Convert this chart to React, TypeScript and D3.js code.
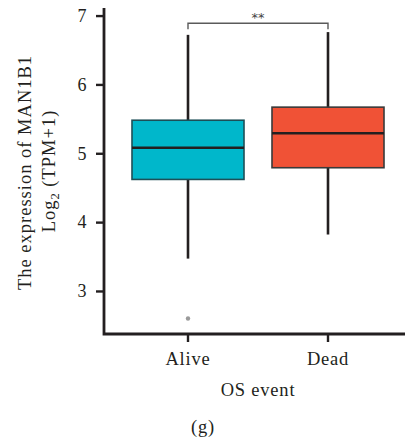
import React, { useEffect, useRef } from "react";
import * as d3 from "d3";

// groups and box statistics
const groups = ["Alive", "Dead"];
const q1 = [4.62, 4.79];
const medians = [5.08, 5.29];
const q3 = [5.48, 5.67];
const whiskerLow = [3.47, 3.82];
const whiskerHigh = [6.72, 6.76];
const outliers = [{ group: "Alive", value: 2.6 }];
const yTicks = [3, 4, 5, 6, 7];
const fills = ["#00B7CB", "#F05236"];
const strokes = ["#1d4f57", "#3a3a3a"];

const FONT = "'Liberation Serif', 'Times New Roman', serif";
const INK = "#231f20";

export default function App() {
  const ref = useRef<SVGSVGElement>(null);

  useEffect(() => {
    const svg = d3.select(ref.current);
    svg.selectAll("*").remove();

    const left = 104, right = 412, top = 8, bottom = 334;

    const y = d3.scaleLinear().domain([2.375, 7.11]).range([bottom, top]);
    const x = d3.scaleBand().domain(groups).range([left, right]).paddingInner(0.2).paddingOuter(0.2);
    const bw = x.bandwidth();
    const cx = (g: string) => (x(g) as number) + bw / 2;

    const data = groups.map((g, i) => ({
      g, i, q1: q1[i], med: medians[i], q3: q3[i], lo: whiskerLow[i], hi: whiskerHigh[i],
    }));

    // whiskers
    svg.selectAll(".whisk-top").data(data).join("line")
      .attr("x1", d => cx(d.g)).attr("x2", d => cx(d.g))
      .attr("y1", d => y(d.q3)).attr("y2", d => y(d.hi))
      .attr("stroke", INK).attr("stroke-width", 2.6);
    svg.selectAll(".whisk-bot").data(data).join("line")
      .attr("x1", d => cx(d.g)).attr("x2", d => cx(d.g))
      .attr("y1", d => y(d.q1)).attr("y2", d => y(d.lo))
      .attr("stroke", INK).attr("stroke-width", 2.6);

    // boxes
    svg.selectAll(".box").data(data).join("rect")
      .attr("x", d => x(d.g) as number)
      .attr("y", d => y(d.q3))
      .attr("width", bw)
      .attr("height", d => y(d.q1) - y(d.q3))
      .attr("fill", d => fills[d.i])
      .attr("stroke", d => strokes[d.i])
      .attr("stroke-width", 1.6);

    // medians
    svg.selectAll(".median").data(data).join("line")
      .attr("x1", d => x(d.g) as number).attr("x2", d => (x(d.g) as number) + bw)
      .attr("y1", d => y(d.med)).attr("y2", d => y(d.med))
      .attr("stroke", INK).attr("stroke-width", 2.4);

    // outliers
    svg.selectAll(".outlier").data(outliers).join("circle")
      .attr("cx", d => cx(d.group)).attr("cy", d => y(d.value))
      .attr("r", 2.2).attr("fill", "#9a9a9a");

    // significance bracket
    const by = 23.3;
    svg.append("path")
      .attr("d", `M${cx("Alive")},${by + 6}V${by}H${cx("Dead")}V${by + 6}`)
      .attr("fill", "none").attr("stroke", "#5a5a5a").attr("stroke-width", 1.4);
    svg.append("text")
      .attr("x", (cx("Alive") + cx("Dead")) / 2).attr("y", by - 1)
      .attr("text-anchor", "middle")
      .style("font-family", "'DejaVu Sans', sans-serif").style("font-size", "13px")
      .attr("fill", "#444").text("**");

    // y axis
    const yAxis = svg.append("g").attr("transform", `translate(${left},0)`)
      .call(d3.axisLeft(y).tickValues(yTicks).tickSize(8).tickPadding(9).tickFormat(d3.format("d")));
    yAxis.select(".domain").remove();
    yAxis.selectAll(".tick line").attr("stroke", INK).attr("stroke-width", 2.4);
    yAxis.selectAll(".tick text")
      .style("font-family", FONT).style("font-size", "18px").attr("fill", INK)
      .attr("letter-spacing", "0.5px");

    // x axis ticks
    svg.selectAll(".xtick").data(groups).join("line")
      .attr("x1", d => cx(d)).attr("x2", d => cx(d))
      .attr("y1", bottom).attr("y2", bottom + 8)
      .attr("stroke", INK).attr("stroke-width", 2.4);
    svg.selectAll(".xlab").data(groups).join("text")
      .attr("x", d => cx(d)).attr("y", 365)
      .attr("text-anchor", "middle")
      .style("font-family", FONT).style("font-size", "18.5px")
      .attr("letter-spacing", "0.8px")
      .attr("fill", INK).text(d => d);

    // axis lines
    svg.append("path")
      .attr("d", `M${left},${top}V${bottom}H${right}`)
      .attr("fill", "none").attr("stroke", INK).attr("stroke-width", 2.8);

    // axis titles
    svg.append("text")
      .attr("x", 258).attr("y", 396)
      .attr("text-anchor", "middle")
      .style("font-family", FONT).style("font-size", "18.5px")
      .attr("letter-spacing", "0.8px")
      .attr("fill", INK).text("OS event");

    svg.append("text")
      .attr("transform", "translate(31,172.5) rotate(-90)")
      .attr("text-anchor", "middle")
      .style("font-family", FONT).style("font-size", "18.5px")
      .attr("letter-spacing", "1px")
      .attr("fill", INK).text("The expression of MAN1B1");

    const l2 = svg.append("text")
      .attr("transform", "translate(55,171) rotate(-90)")
      .attr("text-anchor", "middle")
      .style("font-family", FONT).style("font-size", "18.5px")
      .attr("letter-spacing", "1px")
      .attr("fill", INK);
    l2.append("tspan").text("Log");
    l2.append("tspan").attr("dy", 4).style("font-size", "12.5px").text("2");
    l2.append("tspan").attr("dy", -4).text(" (TPM+1)");

    // panel label
    svg.append("text")
      .attr("x", 203).attr("y", 433)
      .attr("text-anchor", "middle")
      .style("font-family", FONT).style("font-size", "18.5px")
      .attr("letter-spacing", "0.8px")
      .attr("fill", INK).text("(g)");
  }, []);

  return (
    <svg ref={ref} width={405} height={441}
      style={{ position: "absolute", left: 0, top: 0, background: "#fff" }} />
  );
}
